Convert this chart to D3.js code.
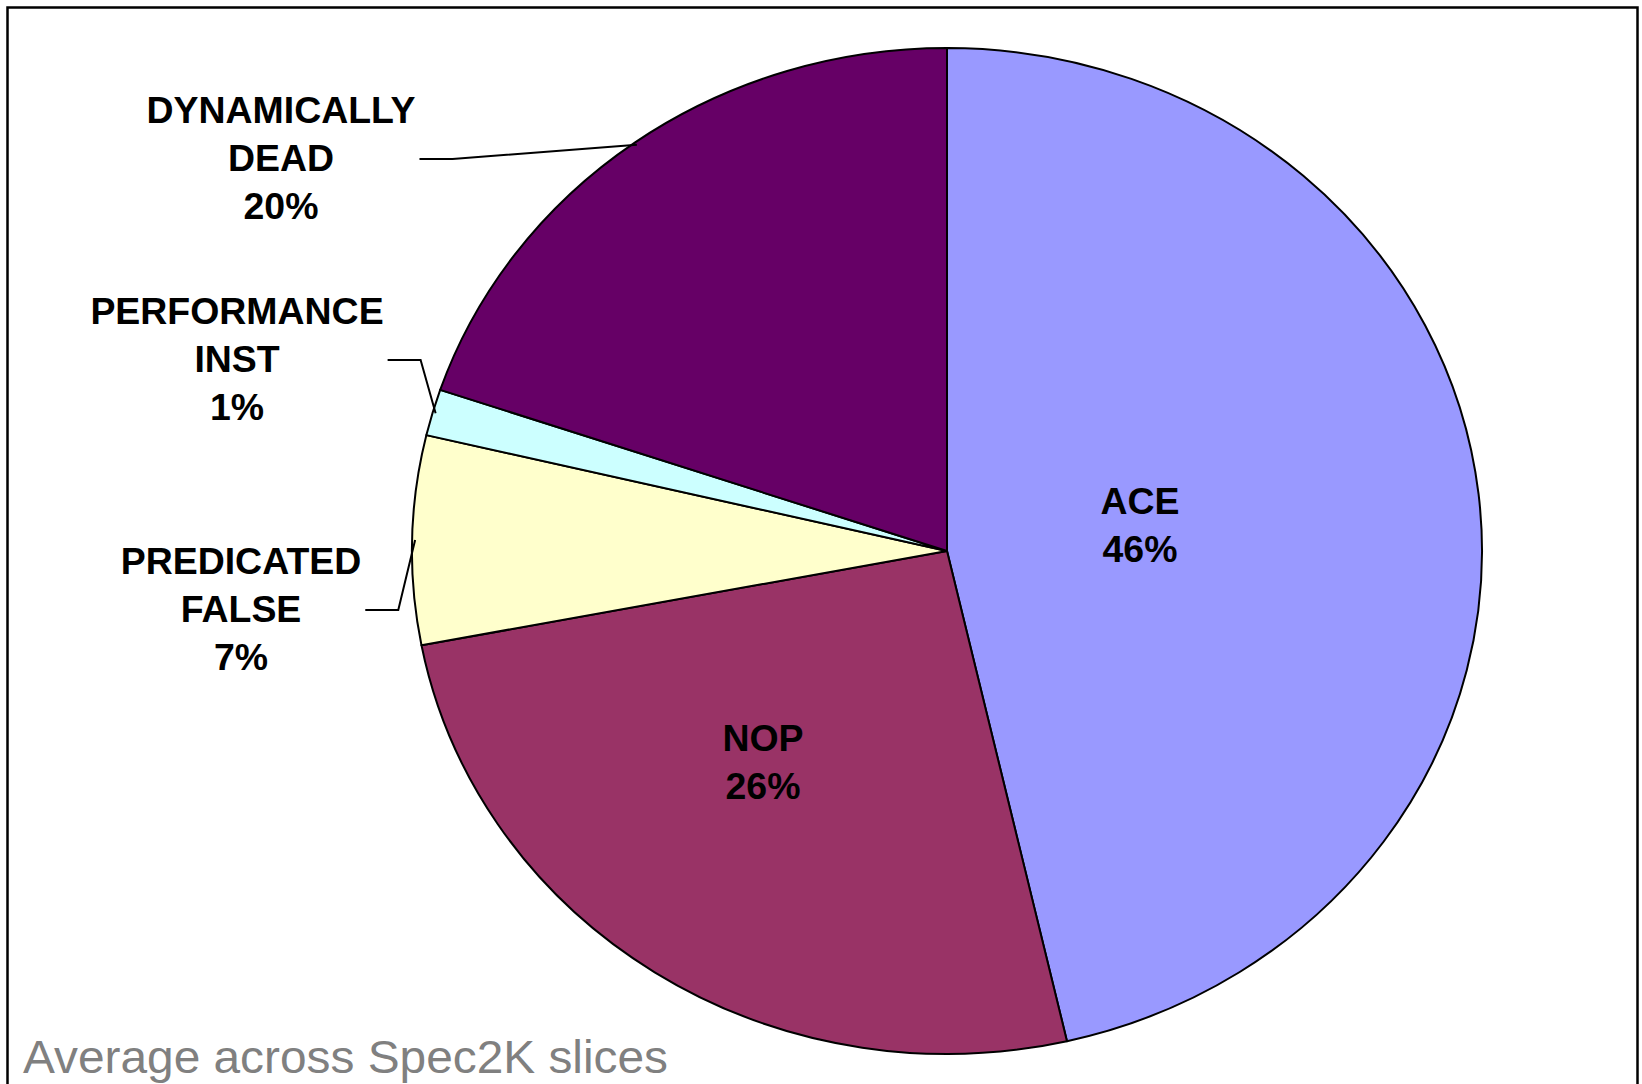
<!DOCTYPE html>
<html>
<head>
<meta charset="utf-8">
<script src="https://cdnjs.cloudflare.com/ajax/libs/d3/7.8.5/d3.min.js"></script>
<style>
  body { margin: 0; background: #fff; }
  svg { display: block; }
  text { font-family: Arial, "Liberation Sans", sans-serif; }
</style>
</head>
<body>
<svg id="chart" width="1642" height="1084"></svg>
<script>
// slices go clockwise from 12 o'clock
var categories = ['ACE', 'NOP', 'PREDICATED FALSE', 'PERFORMANCE INST', 'DYNAMICALLY DEAD'];
var labelLines = [['ACE'], ['NOP'], ['PREDICATED', 'FALSE'], ['PERFORMANCE', 'INST'], ['DYNAMICALLY', 'DEAD']];
var values = [46.4, 25.6, 6.7, 1.49, 19.81];
var colors = ['#9999ff', '#993366', '#ffffcc', '#ccffff', '#660066'];
var footnote = 'Average across Spec2K slices';

// label placement (center x, middle y), outside ones get a leader line
var labelAt = [
  {x: 1140, y: 525, outside: false},
  {x: 763, y: 762, outside: false},
  {x: 241, y: 609, outside: true},
  {x: 237, y: 359, outside: true},
  {x: 281, y: 158, outside: true}
];

var svg = d3.select('#chart');
var cx = 947, cy = 551, rx = 535, ry = 503;
var sx = rx / ry; // the pie is drawn a little wide
var textStretch = 1.04;
var lineH = 48;

// frame
svg.append('rect')
  .attr('x', 7.5).attr('y', 7.5)
  .attr('width', 1630).attr('height', 1120)
  .attr('fill', 'none')
  .attr('stroke', '#000')
  .attr('stroke-width', 2.5);

var pie = d3.pie().sort(null).value(function(d){ return d; });
var arcs = pie(values);
var arc = d3.arc().innerRadius(0).outerRadius(ry);

var pieG = svg.append('g')
  .attr('transform', 'translate(' + cx + ',' + cy + ') scale(' + sx + ',1)');

pieG.selectAll('path')
  .data(arcs)
  .enter()
  .append('path')
  .attr('d', arc)
  .attr('fill', function(d, i){ return colors[i]; })
  .attr('stroke', '#000')
  .attr('stroke-width', 2)
  .attr('stroke-linejoin', 'round')
  .attr('vector-effect', 'non-scaling-stroke');

// labels
var labels = svg.append('g');
arcs.forEach(function(a, i){
  var pos = labelAt[i];
  var lines = labelLines[i].concat([Math.round(values[i]) + '%']);
  var top = pos.y - (lines.length - 1) * lineH / 2 + 13; // baseline of first line
  var g = labels.append('g')
    .attr('transform', 'translate(' + pos.x + ',0) scale(' + textStretch + ',1)');
  var maxW = 0;
  lines.forEach(function(t, j){
    var el = g.append('text')
      .attr('x', 0)
      .attr('y', top + j * lineH)
      .attr('text-anchor', 'middle')
      .attr('font-size', 36)
      .attr('font-weight', 'bold')
      .attr('fill', '#000')
      .text(t);
    maxW = Math.max(maxW, el.node().getComputedTextLength() * textStretch);
  });

  if (pos.outside) {
    var mid = (a.startAngle + a.endAngle) / 2;
    var ex = cx + Math.sin(mid) * (rx - 3);
    var ey = cy - Math.cos(mid) * (ry - 3);
    var x0 = pos.x + maxW / 2 + 4;
    var ly = pos.y + 1;
    svg.append('path')
      .attr('d', d3.line()([[x0, ly], [x0 + 33, ly], [ex, ey]]))
      .attr('fill', 'none')
      .attr('stroke', '#000')
      .attr('stroke-width', 2);
  }
});

svg.append('text')
  .attr('transform', 'translate(23,1073) scale(' + textStretch + ',1)')
  .attr('font-size', 46)
  .attr('fill', '#808080')
  .text(footnote);
</script>
</body>
</html>
